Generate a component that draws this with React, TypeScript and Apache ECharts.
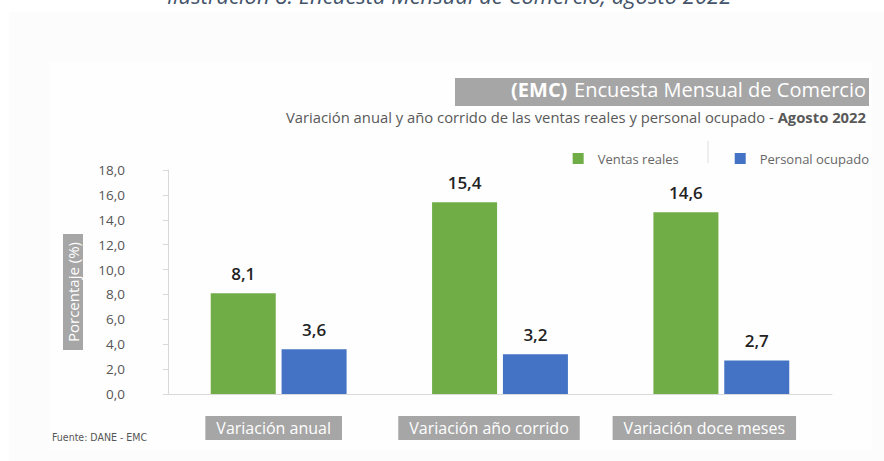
import React, { useEffect, useRef } from "react";
import * as echarts from "echarts";

const categories = ["Variación anual", "Variación año corrido", "Variación doce meses"];
const ventasReales = [8.1, 15.4, 14.6];
const personalOcupado = [3.6, 3.2, 2.7];
const seriesNames = ["Ventas reales", "Personal ocupado"];
const yMin = 0;
const yMax = 18;
const yInterval = 2;

const fmt = (v: number) => v.toFixed(1).replace(".", ",");

export default function App() {
  const ref = useRef<HTMLDivElement>(null);
  useEffect(() => {
    if (!ref.current) return;
    const chart = echarts.init(ref.current, undefined, { renderer: "svg" });
    const font = "'Open Sans', 'Noto Sans', sans-serif";
    const valueLabel = {
      show: true,
      position: "top",
      distance: 11,
      color: "#222222",
      fontSize: 17,
      fontFamily: font,
      fontWeight: 600,
      formatter: (p: any) => fmt(p.value),
    };
    chart.setOption({
      animation: false,
      backgroundColor: "#ffffff",
      textStyle: { fontFamily: font },
      grid: [
        { left: 168, right: 52, top: 170, bottom: 67, containLabel: false },
        { left: 166, right: 72, top: 180, bottom: 57, containLabel: false },
      ],
      legend: {
        right: 10,
        top: 147,
        itemWidth: 11,
        itemHeight: 11,
        itemGap: 56,
        icon: "rect",
        textStyle: { color: "#666666", fontSize: 13, fontFamily: font, padding: [0, 0, 0, 9] },
        data: seriesNames,
      },
      graphic: [
        { type: "rect", z: -10, shape: { x: 9, y: 12, width: 880, height: 455 }, style: { fill: "#fcfcfc" } },
        { type: "rect", z: -9, shape: { x: 50, y: 62, width: 822, height: 388 }, style: { fill: "#fefefe" } },
        {
          type: "text",
          x: 167,
          y: 6,
          style: {
            text: "Ilustración 8. Encuesta Mensual de Comercio, agosto 2022",
            fill: "#44546a",
            font: "italic 22px 'Open Sans', sans-serif",
            verticalAlign: "bottom",
          },
        },
        { type: "rect", shape: { x: 455, y: 78, width: 414, height: 28 }, style: { fill: "#a6a6a6" } },
        {
          type: "text",
          right: 18,
          top: 79,
          style: {
            text: "{b|(EMC)}  {n|Encuesta Mensual de Comercio}",
            rich: {
              b: { fill: "#ffffff", fontSize: 20, fontWeight: "bold", fontFamily: font },
              n: { fill: "#ffffff", fontSize: 20, fontWeight: "normal", fontFamily: font },
            },
          },
        },
        {
          type: "text",
          right: 18,
          top: 109,
          style: {
            text: "{n|Variación anual y año corrido de las ventas reales y personal ocupado - }{b|Agosto 2022}",
            rich: {
              n: { fill: "#595959", fontSize: 14.8, fontFamily: font },
              b: { fill: "#595959", fontSize: 14.8, fontWeight: "bold", fontFamily: font },
            },
          },
        },
        { type: "line", shape: { x1: 708, y1: 141, x2: 708, y2: 163 }, style: { stroke: "#dddddd", lineWidth: 1 } },
        {
          type: "text",
          left: 52,
          top: 431,
          style: { text: "Fuente: DANE - EMC", fill: "#555555", font: "10.5px 'DejaVu Sans Condensed', 'Liberation Sans', sans-serif" },
        },
      ],
      xAxis: [
        {
          type: "category",
          gridIndex: 0,
          data: categories,
          axisLine: { show: true, lineStyle: { color: "#d9d9d9" } },
          axisTick: { show: false },
          axisLabel: { show: false },
        },
        {
          type: "category",
          gridIndex: 1,
          data: categories,
          axisLine: { show: false },
          axisTick: { show: false },
          axisLabel: {
            margin: 12,
            color: "#ffffff",
            fontSize: 16,
            lineHeight: 18,
            fontFamily: font,
            backgroundColor: "#a6a6a6",
            padding: [3, 11, 3, 11],
          },
        },
      ],
      yAxis: [
        {
          type: "value",
          gridIndex: 0,
          min: yMin,
          max: yMax,
          interval: yInterval,
          splitLine: { show: false },
          axisLine: { show: true, lineStyle: { color: "#d9d9d9" } },
          axisTick: { show: true, length: 5, lineStyle: { color: "#d9d9d9" } },
          axisLabel: { color: "#555555", fontSize: 13.5, margin: 43, align: "right", formatter: (v: number) => fmt(v), fontFamily: font },
        },
        {
          type: "value",
          gridIndex: 1,
          min: yMin,
          max: yMax,
          interval: yInterval,
          name: "Porcentaje (%)",
          nameLocation: "middle",
          nameRotate: 90,
          nameGap: 83,
          nameTextStyle: {
            color: "#ffffff",
            fontSize: 15,
            lineHeight: 18,
            backgroundColor: "#a6a6a6",
            padding: [1, 8, 1, 8],
            fontFamily: font,
          },
          splitLine: { show: false },
          axisLine: { show: false },
          axisTick: { show: false },
          axisLabel: { show: false },
        },
      ],
      series: [
        {
          name: seriesNames[0],
          type: "bar",
          data: ventasReales,
          barWidth: 65,
          barGap: "9%",
          itemStyle: { color: "#70ad47" },
          label: valueLabel,
        },
        {
          name: seriesNames[1],
          type: "bar",
          data: personalOcupado,
          barWidth: 65,
          itemStyle: { color: "#4472c4" },
          label: valueLabel,
        },
      ],
    });
    return () => chart.dispose();
  }, []);
  return <div ref={ref} style={{ position: "fixed", left: 0, top: 0, width: 884, height: 461 }} />;
}
